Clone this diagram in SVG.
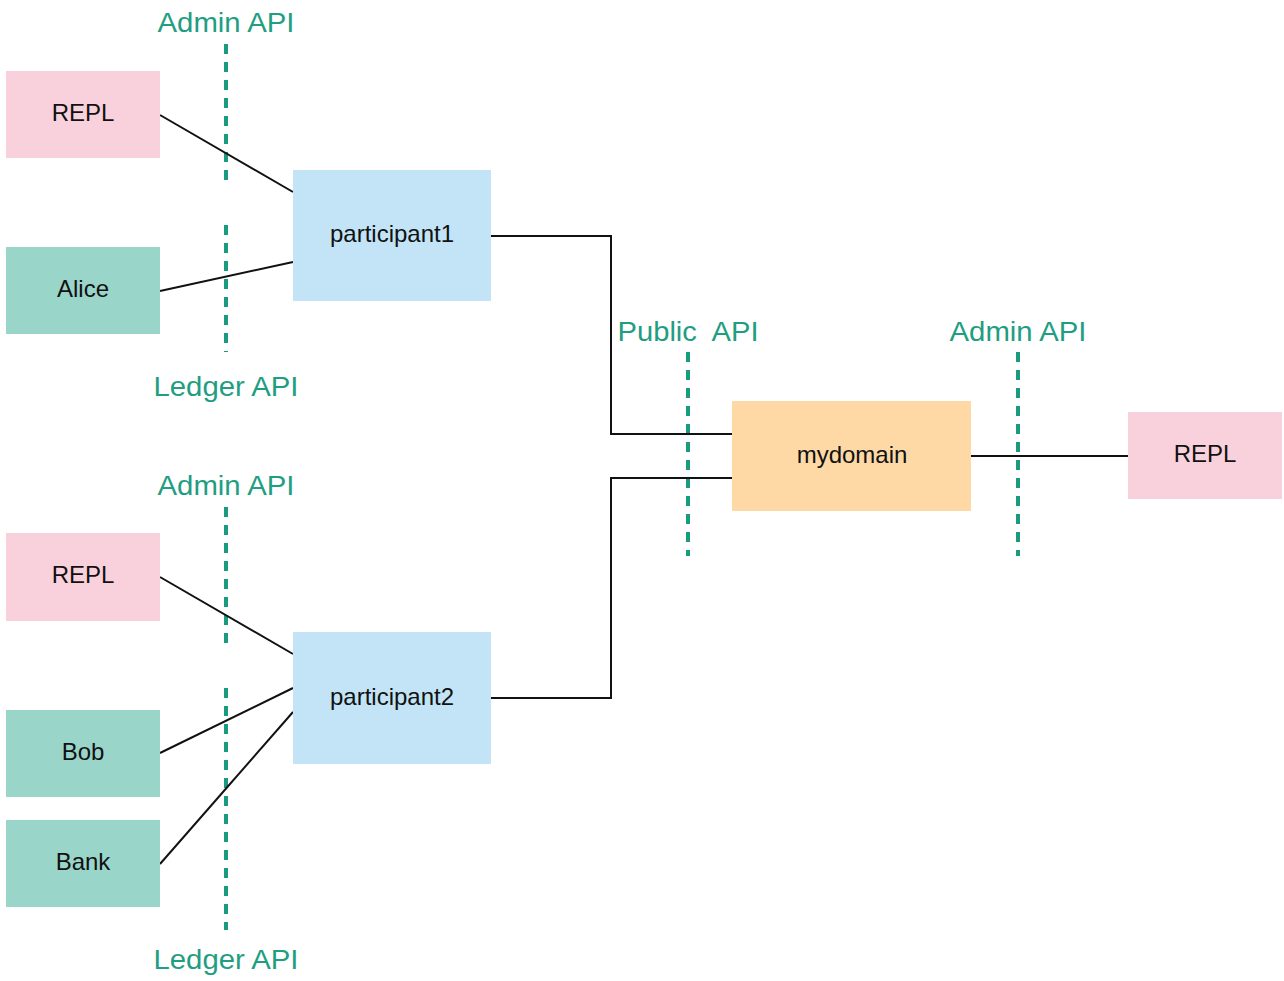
<svg xmlns="http://www.w3.org/2000/svg" width="1284" height="981" viewBox="0 0 1284 981">
<style>
.node text{font-family:"Liberation Sans",Arial,sans-serif;font-size:24px;fill:#111;text-anchor:middle;dominant-baseline:central}
.repl{fill:#f9d1dc}.party{fill:#9ad5ca}.part{fill:#c3e4f6}.dom{fill:#fed9a6}
.api{stroke:#1a9b7d;stroke-width:4;stroke-dasharray:10 8;fill:none}
.lbl{font-family:"Liberation Sans",Arial,sans-serif;font-size:28px;fill:#1f9e82;text-anchor:middle}
.conn{stroke:#111;stroke-width:2;fill:none}
</style>
<rect width="1284" height="981" fill="#fff"/>
<g id="api-boundaries">
<line class="api" x1="226" y1="44" x2="226" y2="180"/>
<line class="api" x1="226" y1="225" x2="226" y2="352"/>
<line class="api" x1="226" y1="507" x2="226" y2="643"/>
<line class="api" x1="226" y1="688" x2="226" y2="930"/>
<line class="api" x1="688" y1="352" x2="688" y2="556"/>
<line class="api" x1="1018" y1="352" x2="1018" y2="556"/>
<text class="lbl" x="226" y="32" textLength="137" lengthAdjust="spacingAndGlyphs">Admin API</text>
<text class="lbl" x="226" y="396" textLength="145" lengthAdjust="spacingAndGlyphs">Ledger API</text>
<text class="lbl" x="226" y="495" textLength="137" lengthAdjust="spacingAndGlyphs">Admin API</text>
<text class="lbl" x="226" y="969" textLength="145" lengthAdjust="spacingAndGlyphs">Ledger API</text>
<text class="lbl" x="688" y="341" xml:space="preserve" textLength="141" lengthAdjust="spacingAndGlyphs">Public  API</text>
<text class="lbl" x="1018" y="341" textLength="137" lengthAdjust="spacingAndGlyphs">Admin API</text>
</g>
<g id="connectors">
<line class="conn" x1="160" y1="115" x2="293" y2="192"/>
<line class="conn" x1="160" y1="291" x2="293" y2="262"/>
<polyline class="conn" points="491,236 611,236 611,434 732,434"/>
<line class="conn" x1="160" y1="577" x2="293" y2="654"/>
<line class="conn" x1="160" y1="753" x2="293" y2="688"/>
<line class="conn" x1="160" y1="864" x2="293" y2="712"/>
<polyline class="conn" points="491,698 611,698 611,478 732,478"/>
<line class="conn" x1="971" y1="456" x2="1128" y2="456"/>
</g>
<g id="repl1" class="node"><rect class="repl" x="6" y="71" width="154" height="87"/><text x="83" y="112">REPL</text></g>
<g id="alice" class="node"><rect class="party" x="6" y="247" width="154" height="87"/><text x="83" y="288">Alice</text></g>
<g id="participant1" class="node"><rect class="part" x="293" y="170" width="198" height="131"/><text x="392" y="233">participant1</text></g>
<g id="repl2" class="node"><rect class="repl" x="6" y="533" width="154" height="88"/><text x="83" y="574">REPL</text></g>
<g id="bob" class="node"><rect class="party" x="6" y="710" width="154" height="87"/><text x="83" y="751">Bob</text></g>
<g id="bank" class="node"><rect class="party" x="6" y="820" width="154" height="87"/><text x="83" y="861">Bank</text></g>
<g id="participant2" class="node"><rect class="part" x="293" y="632" width="198" height="132"/><text x="392" y="696">participant2</text></g>
<g id="mydomain" class="node"><rect class="dom" x="732" y="401" width="239" height="110"/><text x="852" y="454">mydomain</text></g>
<g id="repl3" class="node"><rect class="repl" x="1128" y="412" width="154" height="87"/><text x="1205" y="453">REPL</text></g>
</svg>
